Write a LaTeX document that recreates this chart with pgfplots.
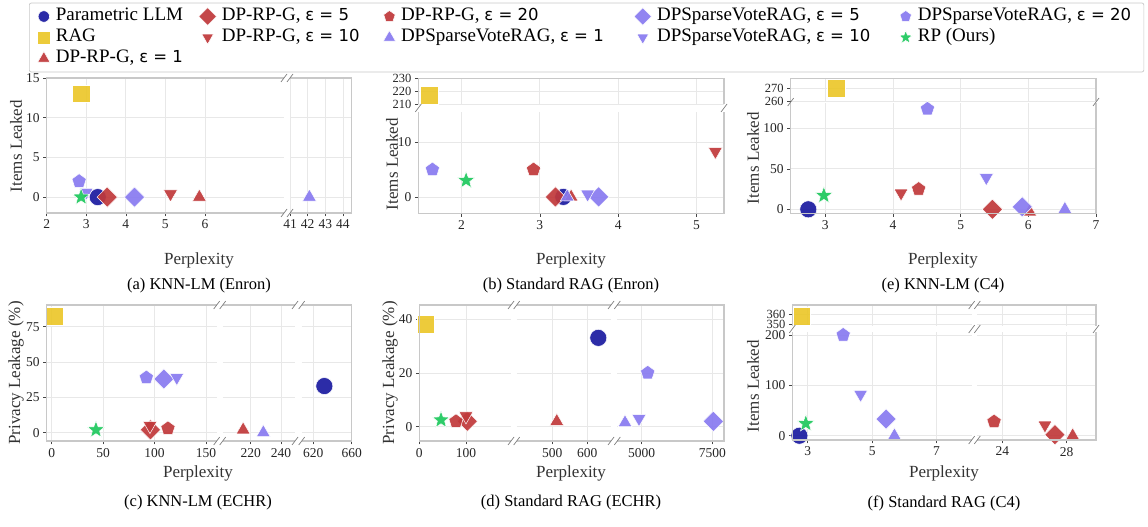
\documentclass[border=0pt]{standalone}
\usepackage{fontspec}
\setmainfont{Liberation Serif}
\newfontfamily\dejavu{DejaVu Sans}
\newfontfamily\libser{Liberation Serif}
\usepackage{pgfplots}
\pgfplotsset{compat=1.18}
\usetikzlibrary{plotmarks}

\definecolor{cPar}{RGB}{26,26,160}
\definecolor{cRAG}{RGB}{235,199,42}
\definecolor{cDP}{RGB}{192,56,58}
\definecolor{cSV}{RGB}{136,122,240}
\definecolor{cRP}{RGB}{28,200,92}
\definecolor{gridc}{RGB}{232,232,232}
\definecolor{framec}{RGB}{200,200,200}
\definecolor{tickc}{RGB}{70,70,70}

\pgfdeclareplotmark{fstar}{%
  \pgfpathmoveto{\pgfpointpolar{90}{\pgfplotmarksize}}%
  \pgfpathlineto{\pgfpointpolar{126}{0.42*\pgfplotmarksize}}%
  \pgfpathlineto{\pgfpointpolar{162}{\pgfplotmarksize}}%
  \pgfpathlineto{\pgfpointpolar{198}{0.42*\pgfplotmarksize}}%
  \pgfpathlineto{\pgfpointpolar{234}{\pgfplotmarksize}}%
  \pgfpathlineto{\pgfpointpolar{270}{0.42*\pgfplotmarksize}}%
  \pgfpathlineto{\pgfpointpolar{306}{\pgfplotmarksize}}%
  \pgfpathlineto{\pgfpointpolar{342}{0.42*\pgfplotmarksize}}%
  \pgfpathlineto{\pgfpointpolar{18}{\pgfplotmarksize}}%
  \pgfpathlineto{\pgfpointpolar{54}{0.42*\pgfplotmarksize}}%
  \pgfpathclose\pgfusepathqfillstroke}

\tikzset{mkbase/.style={draw=white, line width=0.5pt, fill opacity=0.92}}
\pgfplotsset{
  sPar/.style={only marks, mark=*, mark size=8.5pt, mark options={mkbase, fill=cPar}},
  sRAG/.style={only marks, mark=square*, mark size=8.8pt, mark options={mkbase, fill=cRAG}},
  sDPa/.style={only marks, mark=triangle*, mark size=8pt, mark options={mkbase, fill=cDP}},
  sDPb/.style={only marks, mark=square*, mark size=7.2pt, mark options={mkbase, fill=cDP, rotate=45}},
  sDPc/.style={only marks, mark=triangle*, mark size=8pt, mark options={mkbase, fill=cDP, rotate=180}},
  sDPd/.style={only marks, mark=pentagon*, mark size=7.5pt, mark options={mkbase, fill=cDP}},
  sSVa/.style={only marks, mark=triangle*, mark size=8pt, mark options={mkbase, fill=cSV}},
  sSVb/.style={only marks, mark=square*, mark size=7.2pt, mark options={mkbase, fill=cSV, rotate=45}},
  sSVc/.style={only marks, mark=triangle*, mark size=8pt, mark options={mkbase, fill=cSV, rotate=180}},
  sSVd/.style={only marks, mark=pentagon*, mark size=7.5pt, mark options={mkbase, fill=cSV}},
  sRP/.style={only marks, mark=fstar, mark size=9pt, mark options={mkbase, fill=cRP}},
  seg/.style={scale only axis, anchor=south west, separate axis lines, axis line style={draw=none},
    grid=major, major grid style={draw=gridc, line width=0.7pt},
    tick align=outside, tick pos=left, major tick length=3.5pt,
    tick style={draw=tickc, line width=0.6pt},
    tick label style={font=\fontsize{13.5}{14}\selectfont, text=black!85},
    /pgf/number format/assume math mode=true, /pgf/number format/1000 sep={},
    scaled ticks=false, clip=true},
  noy/.style={yticklabels={}, ytick style={draw=none}},
  nox/.style={xticklabels={}, xtick style={draw=none}},
  small y/.style={yticklabel style={font=\fontsize{12.5}{13}\selectfont, inner ysep=0pt}},
}
\newcommand\eps[1]{{\dejavu\fontsize{16.5}{18}\selectfont ε = #1}}
\newcommand\lbl{\fontsize{17}{20}\selectfont}
\newcommand\capf{\fontsize{16.5}{20}\selectfont}
\newcommand\brk[2]{\draw[brk] ({#1-3},{#2+4})--({#1+3},{#2-4});}
\newcommand\lw[2]{\makebox[#1pt][l]{\libser\fontsize{19}{21}\selectfont #2}}

\begin{document}
\begin{tikzpicture}
\path[use as bounding box] (0pt,0pt) rectangle (1148pt,527pt);

% (a) KNN-LM (Enron)
\begin{axis}[seg, at={(46.7pt,314pt)}, width=237.3pt, height=135pt,
  xmin=2, xmax=8, ymin=-2, ymax=15, xtick={2,3,4,5,6}, ytick={0,5,10,15}]
\addplot[sPar] coordinates {(3.29,0)};
\addplot[sRAG] coordinates {(2.87,13)};
\addplot[sDPa] coordinates {(5.86,0)};
\addplot[sDPb] coordinates {(3.53,0)};
\addplot[sDPc] coordinates {(5.13,0.4)};
\addplot[sSVb] coordinates {(4.22,0)};
\addplot[sSVc] coordinates {(3.0,0.6)};
\addplot[sSVd] coordinates {(2.82,2)};
\addplot[sRP] coordinates {(2.87,0)};
\end{axis}
\begin{axis}[seg, noy, at={(290pt,314pt)}, width=61.7pt, height=135pt,
  xmin=41, xmax=44.5, ymin=-2, ymax=15, xtick={41,42,43,44}, ytick={0,5,10,15}]
\addplot[sSVa] coordinates {(42.1,0)};
\end{axis}

% (b) Standard RAG (Enron)
\begin{axis}[seg, nox, small y, at={(418.3pt,422.7pt)}, width=305.7pt, height=26pt,
  xmin=1.45, xmax=5.35, ymin=210, ymax=230, xtick={2,3,4,5}, ytick={210,220,230}]
\addplot[sRAG] coordinates {(1.59,217)};
\end{axis}
\begin{axis}[seg, at={(418.3pt,313.7pt)}, width=305.7pt, height=101.6pt,
  xmin=1.45, xmax=5.35, ymin=-3, ymax=15.6, xtick={2,3,4,5}, ytick={0,10}]
\addplot[sPar] coordinates {(3.3,0)};
\addplot[sDPa] coordinates {(3.4,0)};
\addplot[sDPb] coordinates {(3.2,0)};
\addplot[sDPc] coordinates {(5.24,8.3)};
\addplot[sDPd] coordinates {(2.92,5)};
\addplot[sSVa] coordinates {(3.35,0)};
\addplot[sSVb] coordinates {(3.75,0)};
\addplot[sSVc] coordinates {(3.61,0.5)};
\addplot[sSVd] coordinates {(1.63,5)};
\addplot[sRP] coordinates {(2.06,3)};
\end{axis}

% (e) KNN-LM (C4)
\begin{axis}[seg, nox, small y, at={(790.7pt,426pt)}, width=305.3pt, height=22.7pt,
  xmin=2.49, xmax=7, ymin=260, ymax=277.9, xtick={3,4,5,6,7}, ytick={260,270}]
\addplot[sRAG] coordinates {(3.16,270)};
\end{axis}
\begin{axis}[seg, at={(790.7pt,313.7pt)}, width=305.3pt, height=110pt,
  xmin=2.49, xmax=7, ymin=-4.9, ymax=130.9, xtick={3,4,5,6,7}, ytick={0,50,100}]
\addplot[sPar] coordinates {(2.75,0)};
\addplot[sDPa] coordinates {(6.02,-3)};
\addplot[sDPb] coordinates {(5.47,0)};
\addplot[sDPc] coordinates {(4.12,20)};
\addplot[sDPd] coordinates {(4.38,25)};
\addplot[sSVa] coordinates {(6.54,0)};
\addplot[sSVb] coordinates {(5.91,3)};
\addplot[sSVc] coordinates {(5.38,39)};
\addplot[sSVd] coordinates {(4.51,124)};
\addplot[sRP] coordinates {(2.98,17)};
\end{axis}

% (c) KNN-LM (ECHR)
\begin{axis}[seg, at={(46.7pt,86pt)}, width=170pt, height=136pt,
  xmin=-4.9, xmax=160.4, ymin=-5.9, ymax=90.4, xtick={0,50,100,150}, ytick={0,25,50,75}]
\addplot[sRAG] coordinates {(2.5,82.6)};
\addplot[sDPb] coordinates {(96,2)};
\addplot[sDPc] coordinates {(95.5,5)};
\addplot[sDPd] coordinates {(113,3)};
\addplot[sSVb] coordinates {(109,38)};
\addplot[sSVc] coordinates {(121.6,39)};
\addplot[sSVd] coordinates {(92,39)};
\addplot[sRP] coordinates {(43,2)};
\end{axis}
\begin{axis}[seg, noy, at={(222.7pt,86pt)}, width=72.3pt, height=136pt,
  xmin=201.5, xmax=249.2, ymin=-5.9, ymax=90.4, xtick={220,240}, ytick={0,25,50,75}]
\addplot[sDPa] coordinates {(215,2)};
\addplot[sSVa] coordinates {(228.3,0)};
\end{axis}
\begin{axis}[seg, noy, at={(301.7pt,86pt)}, width=50pt, height=136pt,
  xmin=607.9, xmax=660, ymin=-5.9, ymax=90.4, xtick={620,660}, ytick={0,25,50,75}]
\addplot[sPar] coordinates {(631.5,33)};
\end{axis}

% (d) Standard RAG (ECHR)
\begin{axis}[seg, at={(419.3pt,86pt)}, width=91.7pt, height=136pt,
  xmin=0, xmax=196.4, ymin=-5.3, ymax=45.2, xtick={0,100}, ytick={0,20,40}]
\addplot[sRAG] coordinates {(13.7,38)};
\addplot[sDPb] coordinates {(102.8,2)};
\addplot[sDPc] coordinates {(100,4)};
\addplot[sDPd] coordinates {(78.6,2)};
\addplot[sRP] coordinates {(46.5,2.5)};
\end{axis}
\begin{axis}[seg, noy, at={(516.7pt,86pt)}, width=94.3pt, height=136pt,
  xmin=398, xmax=667.7, ymin=-5.3, ymax=45.2, xtick={500,600}, ytick={0,20,40}]
\addplot[sPar] coordinates {(631.4,33)};
\addplot[sDPa] coordinates {(512.6,2)};
\end{axis}
\begin{axis}[seg, noy, at={(617.3pt,86pt)}, width=106.7pt, height=136pt,
  xmin=4136, xmax=7914, ymin=-5.3, ymax=45.2, xtick={5000,7500}, ytick={0,20,40}]
\addplot[sSVa] coordinates {(4409,1.5)};
\addplot[sSVb] coordinates {(7536,2)};
\addplot[sSVc] coordinates {(4904,3)};
\addplot[sSVd] coordinates {(5212,20)};
\end{axis}

% (f) Standard RAG (C4)
\begin{axis}[seg, nox, small y, at={(792.3pt,201pt)}, width=179.4pt, height=21pt,
  xmin=2.52, xmax=8.09, ymin=348.3, ymax=368.7, xtick={3,5,7}, ytick={350,360}]
\addplot[sRAG] coordinates {(2.81,358)};
\end{axis}
\begin{axis}[seg, nox, noy, at={(977.3pt,201pt)}, width=118.7pt, height=21pt,
  xmin=22.45, xmax=29.82, ymin=348.3, ymax=368.7, xtick={24,28}, ytick={350,360}]
\end{axis}
\begin{axis}[seg, at={(792.3pt,87pt)}, width=179.4pt, height=108.3pt,
  xmin=2.52, xmax=8.09, ymin=-8.5, ymax=206.5, xtick={3,5,7}, ytick={0,100,200}]
\addplot[sPar] coordinates {(2.74,0)};
\addplot[sSVa] coordinates {(5.69,0)};
\addplot[sSVb] coordinates {(5.43,33)};
\addplot[sSVc] coordinates {(4.64,82)};
\addplot[sSVd] coordinates {(4.1,200)};
\addplot[sRP] coordinates {(2.94,24)};
\end{axis}
\begin{axis}[seg, noy, at={(977.3pt,87pt)}, width=118.7pt, height=108.3pt,
  xmin=22.45, xmax=29.82, ymin=-8.5, ymax=206.5, xtick={24,28}, ytick={0,100,200}]
\addplot[sDPa] coordinates {(28.37,0)};
\addplot[sDPb] coordinates {(27.27,2)};
\addplot[sDPc] coordinates {(26.65,21)};
\addplot[sDPd] coordinates {(23.49,28)};
\end{axis}

% legend
\begin{axis}[hide axis, scale only axis, width=10pt, height=10pt, at={(0pt,0pt)}, anchor=south west,
  xmin=0, xmax=1, ymin=0, ymax=1, legend columns=5, legend cell align=left,
  legend style={at={(2.9,52.43)}, anchor=north west, draw=framec, line width=0.7pt,
    rounded corners=2pt, inner xsep=8pt, inner ysep=3pt, font=\libser\fontsize{19}{21}\selectfont,
    nodes={text height=13.7pt, text depth=5.3pt, inner xsep=2pt, inner ysep=1pt},
    /tikz/every odd column/.append style={column sep=3.5pt},
    /tikz/every even column/.append style={column sep=0pt}}]
\addlegendimage{sPar, mark size=5.7pt}\addlegendentry{\lw{141}{Parametric LLM}}
\addlegendimage{sDPb, mark size=6.2pt}\addlegendentry{\lw{159.5}{DP-RP-G, \eps{5}}}
\addlegendimage{sDPd, mark size=6pt}\addlegendentry{\lw{231}{DP-RP-G, \eps{20}}}
\addlegendimage{sSVb, mark size=6.2pt}\addlegendentry{\lw{240}{DPSparseVoteRAG, \eps{5}}}
\addlegendimage{sSVd, mark size=6pt}\addlegendentry{\lw{216}{DPSparseVoteRAG, \eps{20}}}
\addlegendimage{sRAG, mark size=6.5pt}\addlegendentry{\lw{141}{RAG}}
\addlegendimage{sDPc, mark size=6.7pt}\addlegendentry{\lw{159.5}{DP-RP-G, \eps{10}}}
\addlegendimage{sSVa, mark size=7pt}\addlegendentry{\lw{231}{DPSparseVoteRAG, \eps{1}}}
\addlegendimage{sSVc, mark size=6.7pt}\addlegendentry{\lw{240}{DPSparseVoteRAG, \eps{10}}}
\addlegendimage{sRP, mark size=7pt}\addlegendentry{\lw{216}{RP (Ours)}}
\addlegendimage{sDPa, mark size=7pt}\addlegendentry{\lw{141}{DP-RP-G, \eps{1}}}
\end{axis}

% frames, break marks and text, in image pixel coordinates
\begin{scope}[x=1pt, y=-1pt, shift={(0pt,527pt)},
  frame/.style={draw=framec, line width=1.1pt},
  brk/.style={draw=black!50, line width=0.7pt}]
% (a)
\draw[frame] (284,78)--(46.7,78)--(46.7,213)--(284,213);
\draw[frame] (290,78)--(351.7,78)--(351.7,213)--(290,213);
\brk{284}{78}\brk{290}{78}\brk{284}{213}\brk{290}{213}
% (b)
\draw[frame] (418.3,104.3)--(418.3,78.3)--(724,78.3)--(724,104.3);
\draw[frame] (418.3,111.7)--(418.3,213.3)--(724,213.3)--(724,111.7);
\brk{418.3}{108}\brk{724}{108}
% (e)
\draw[frame] (790.7,101)--(790.7,78.3)--(1096,78.3)--(1096,101);
\draw[frame] (790.7,103.3)--(790.7,213.3)--(1096,213.3)--(1096,103.3);
\brk{790.7}{102}\brk{1096}{102}
% (c)
\draw[frame] (216.7,305)--(46.7,305)--(46.7,441)--(216.7,441);
\draw[frame] (222.7,305)--(295,305) (222.7,441)--(295,441);
\draw[frame] (301.7,305)--(351.7,305)--(351.7,441)--(301.7,441);
\foreach \xx in {216.7,222.7,295,301.7} {\brk{\xx}{305}\brk{\xx}{441}}
% (d)
\draw[frame] (511,305)--(419.3,305)--(419.3,441)--(511,441);
\draw[frame] (516.7,305)--(611,305) (516.7,441)--(611,441);
\draw[frame] (617.3,305)--(724,305)--(724,441)--(617.3,441);
\foreach \xx in {511,516.7,611,617.3} {\brk{\xx}{305}\brk{\xx}{441}}
% (f)
\draw[frame] (792.3,326)--(792.3,305)--(971.7,305);
\draw[frame] (977.3,305)--(1096,305)--(1096,326);
\draw[frame] (792.3,331.7)--(792.3,440)--(971.7,440);
\draw[frame] (977.3,440)--(1096,440)--(1096,331.7);
\brk{971.7}{305}\brk{977.3}{305}\brk{971.7}{440}\brk{977.3}{440}
\brk{792.3}{329}\brk{1096}{329}\brk{971.7}{329}\brk{977.3}{329}

% labels
\node[rotate=90, font=\lbl, text=black!80] at (16,146) {Items Leaked};
\node[rotate=90, font=\lbl, text=black!80] at (392,164) {Items Leaked};
\node[rotate=90, font=\lbl, text=black!80] at (753,158) {Items Leaked};
\node[rotate=90, font=\lbl, text=black!80] at (16,373) {Privacy Leakage (\%)};
\node[rotate=90, font=\lbl, text=black!80] at (390,373) {Privacy Leakage (\%)};
\node[rotate=90, font=\lbl, text=black!80] at (753,386) {Items Leaked};
\node[font=\lbl, text=black!80] at (199,260) {Perplexity};
\node[font=\lbl, text=black!80] at (571,260) {Perplexity};
\node[font=\lbl, text=black!80] at (943,260) {Perplexity};
\node[font=\lbl, text=black!80] at (198,473) {Perplexity};
\node[font=\lbl, text=black!80] at (571,473) {Perplexity};
\node[font=\lbl, text=black!80] at (944,473) {Perplexity};
\node[font=\capf] at (199,286) {(a) KNN-LM (Enron)};
\node[font=\capf] at (571,286) {(b) Standard RAG (Enron)};
\node[font=\capf] at (943,286) {(e) KNN-LM (C4)};
\node[font=\capf] at (198,503) {(c) KNN-LM (ECHR)};
\node[font=\capf] at (571,503) {(d) Standard RAG (ECHR)};
\node[font=\capf] at (944,503) {(f) Standard RAG (C4)};
\end{scope}
\end{tikzpicture}
\end{document}
